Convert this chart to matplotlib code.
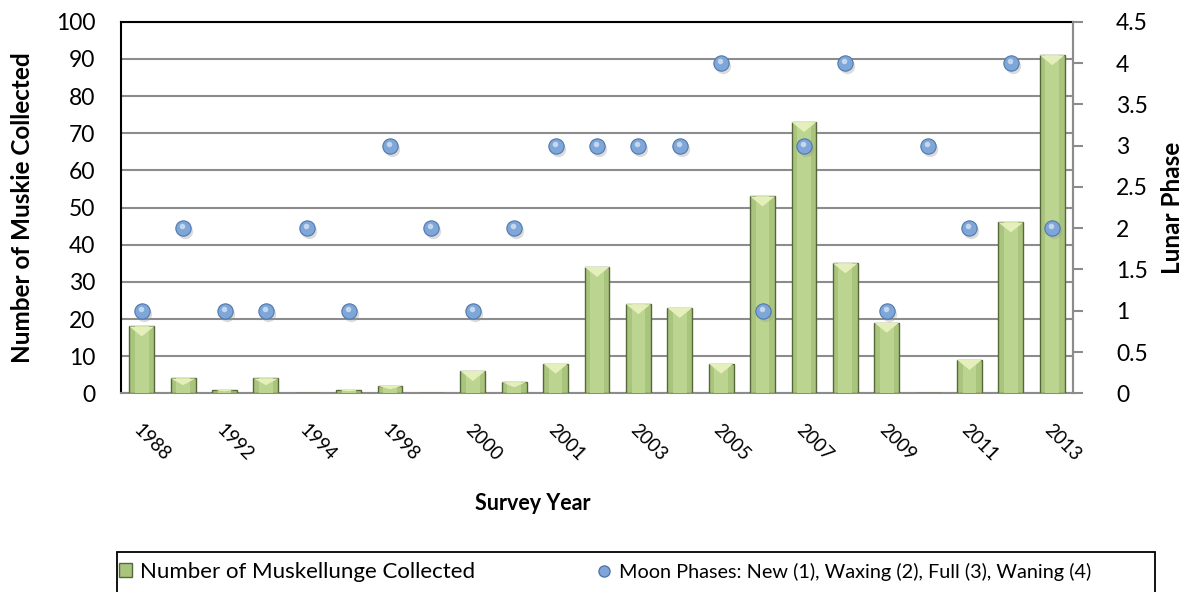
import matplotlib.pyplot as plt
from matplotlib.lines import Line2D
from matplotlib.patches import Patch, Rectangle
import matplotlib.transforms as mtransforms

plt.rcParams['font.family'] = ['Lato', 'DejaVu Sans']

# Survey years (only every other one is labelled on the axis)
years = ['1988', '1990', '1992', '1993', '1994', '1997', '1998', '1999',
         '2000', '2000b', '2001', '2002', '2003', '2004', '2005', '2006',
         '2007', '2008', '2009', '2010', '2011', '2012', '2013']
muskie = [18, 4, 1, 4, 0, 1, 2, 0, 6, 3, 8, 34, 24, 23, 8, 53, 73, 35, 19, 0, 9, 46, 91]
moon = [1, 2, 1, 1, 2, 1, 3, 2, 1, 2, 3, 3, 3, 3, 4, 1, 3, 4, 1, 3, 2, 4, 2]
shown_labels = ['1988', '1992', '1994', '1998', '2000', '2001', '2003',
                '2005', '2007', '2009', '2011', '2013']

fig = plt.figure(figsize=(11.89, 5.92), dpi=100)
ax = fig.add_axes([0.1018, 0.3356, 0.8006, 0.6277])
ax2 = ax.twinx()

x = list(range(len(years)))
w = 0.6

# bars with a bevelled top
ax.bar(x, muskie, width=w, color='#a9c47c', edgecolor='#56683a', linewidth=1.0, zorder=3)
ax.bar(x, muskie, width=w * 0.55, color='#bbd590', edgecolor='none', zorder=3)
for xi, v in zip(x, muskie):
    if v <= 0:
        continue
    d = min(2.7, v * 0.45)
    ax.fill([xi - w / 2, xi + w / 2, xi], [v, v, v - d], color='#e4efbb',
            edgecolor='none', zorder=4)

# moon phase points with a soft shadow
shadow = mtransforms.offset_copy(ax2.transData, fig=fig, x=2, y=-3, units='dots')
ax2.plot(x, moon, 'o', ms=11, color='#9a9a9a', alpha=0.35, mec='none',
         transform=shadow, zorder=4)
ax2.plot(x, moon, 'o', ms=11, color='#7ea6d8', mec='#4f78ab', mew=0.8, zorder=5)
ax2.plot(x, moon, 'o', ms=4, color='#d5e4f5', mec='none', alpha=0.8,
         transform=mtransforms.offset_copy(ax2.transData, fig=fig, x=-1, y=2, units='dots'),
         zorder=6)

ax.set_xlim(-0.5, len(years) - 0.5)
ax.set_ylim(0, 100)
ax.set_yticks(range(0, 101, 10))
ax2.set_ylim(0, 4.5)
ax2.set_yticks([i * 0.5 for i in range(10)])
ax2.set_yticklabels(['0', '0.5', '1', '1.5', '2', '2.5', '3', '3.5', '4', '4.5'])

# rotated year labels on every other category
ax.set_xticks([])
lab_tr = mtransforms.offset_copy(ax.get_xaxis_transform(), fig=fig, x=-5, y=-34, units='dots')
for xi, lab in zip(x[::2], shown_labels):
    ax.text(xi, 0, lab, transform=lab_tr, rotation=-45, rotation_mode='anchor',
            ha='left', va='center', fontsize=13.5)

ax.grid(axis='y', color='#8c8c8c', linewidth=1.5, zorder=0)
ax.set_axisbelow(True)
ax.tick_params(axis='y', length=0, labelsize=16.5, pad=18.5)
ax2.tick_params(axis='y', which='major', right=True, length=7, color='#8c8c8c',
                width=1.5, labelsize=16.5, pad=24)

for s in ['left', 'top']:
    ax.spines[s].set_color('black')
    ax.spines[s].set_linewidth(1.5)
for s in ['right', 'bottom']:
    ax.spines[s].set_color('#8c8c8c')
    ax.spines[s].set_linewidth(1.5)
for s in ax2.spines.values():
    s.set_visible(False)
ax2.spines['right'].set_visible(True)
ax2.spines['right'].set_color('#8c8c8c')
ax2.spines['right'].set_linewidth(1.5)

fig.text(0.019, 0.6495, 'Number of Muskie Collected', rotation=90, ha='center',
         va='center', fontsize=17.5, fontweight='bold')
fig.text(1172 / 1189, 0.6495, 'Lunar Phase', rotation=90, ha='center', va='center',
         fontsize=17.5, fontweight='bold')
fig.text(533 / 1189, 0.15, 'Survey Year', ha='center', va='center',
         fontsize=15.5, fontweight='bold')

# legend frame runs past the bottom edge of the figure
fig.patches.append(Rectangle((117 / 1189, -0.05), (1155 - 117) / 1189, 0.05 + 40 / 592,
                             transform=fig.transFigure, fill=False,
                             edgecolor='black', linewidth=1.3))
handles = [Patch(facecolor='#a9c47c', edgecolor='#56683a'),
           Line2D([], [], marker='o', ls='none', ms=8, color='#7ea6d8', mec='#4f78ab')]
labels = ['Number of Muskellunge Collected',
          'Moon Phases: New (1), Waxing (2), Full (3), Waning (4)']
leg = fig.legend(handles, labels, loc='center left', ncol=2,
                 bbox_to_anchor=(119 / 1189, 1 - 572 / 592), fontsize=16,
                 frameon=False, handlelength=0.6, handleheight=0.6,
                 handletextpad=0.35, columnspacing=5.5,
                 borderaxespad=0, borderpad=0)
leg.get_texts()[1].set_fontsize(14.3)

fig.savefig('out.png', dpi=100)
